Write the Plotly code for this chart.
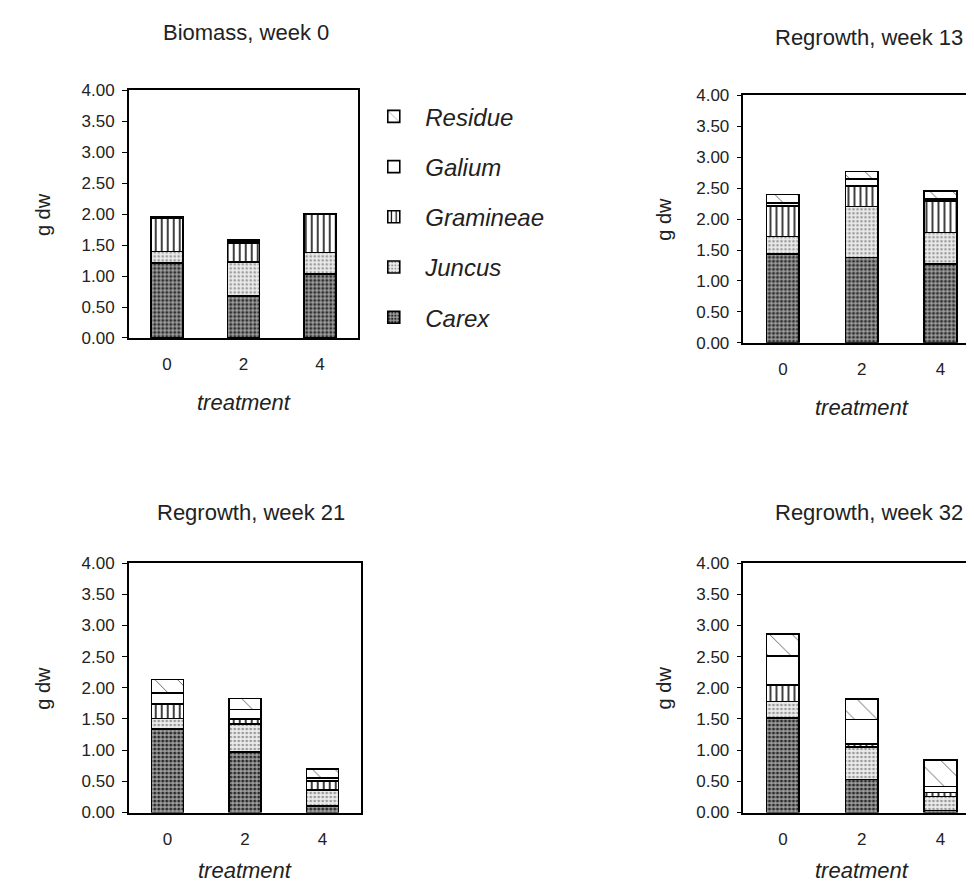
import plotly.graph_objects as go

W, H = 974, 884

treatments = ["0", "2", "4"]
species = ["Carex", "Juncus", "Gramineae", "Galium", "Residue"]
panel_titles = ["Biomass, week 0", "Regrowth, week 13", "Regrowth, week 21", "Regrowth, week 32"]
y_tick_vals = [0.0, 0.5, 1.0, 1.5, 2.0, 2.5, 3.0, 3.5, 4.0]

# week 0 (biomass)
carex_w0 = [1.21, 0.68, 1.03]
juncus_w0 = [0.19, 0.55, 0.35]
gramineae_w0 = [0.53, 0.30, 0.62]
galium_w0 = [0.02, 0.04, 0.01]
residue_w0 = [0.00, 0.02, 0.00]

# week 13 (regrowth)
carex_w13 = [1.44, 1.38, 1.27]
juncus_w13 = [0.28, 0.82, 0.51]
gramineae_w13 = [0.49, 0.33, 0.51]
galium_w13 = [0.05, 0.12, 0.03]
residue_w13 = [0.14, 0.12, 0.13]

# week 21 (regrowth)
carex_w21 = [1.34, 0.97, 0.10]
juncus_w21 = [0.17, 0.45, 0.26]
gramineae_w21 = [0.23, 0.08, 0.15]
galium_w21 = [0.18, 0.15, 0.04]
residue_w21 = [0.21, 0.18, 0.15]

# week 32 (regrowth)
carex_w32 = [1.52, 0.53, 0.03]
juncus_w32 = [0.26, 0.52, 0.23]
gramineae_w32 = [0.26, 0.05, 0.06]
galium_w32 = [0.47, 0.39, 0.10]
residue_w32 = [0.35, 0.33, 0.42]

panels_data = [
    [carex_w0, juncus_w0, gramineae_w0, galium_w0, residue_w0],
    [carex_w13, juncus_w13, gramineae_w13, galium_w13, residue_w13],
    [carex_w21, juncus_w21, gramineae_w21, galium_w21, residue_w21],
    [carex_w32, juncus_w32, gramineae_w32, galium_w32, residue_w32],
]

FONT = "Liberation Sans, Arial, Helvetica, sans-serif"

# pixel boxes of plot areas: (left, right, top, bottom)
boxes = [(121, 351, 75, 328), (737, 974, 80, 333), (121, 354, 558, 813), (737, 974, 558, 813)]
title_pos = [(238, 16), (863, 21), (243, 506), (863, 506)]
ytitle_x = [35, 657, 35, 657]
xtitle_y = [394, 399, 872, 872]

legend_rank = {"Residue": 1, "Galium": 2, "Gramineae": 3, "Juncus": 4, "Carex": 5}

styles = {
    "Carex": dict(color="#8c8c8c", pattern=dict(shape=".", fgcolor="#2a2a2a", bgcolor="#a0a0a0",
                                               size=4, solidity=0.45, fillmode="replace")),
    "Juncus": dict(color="#dcdcdc", pattern=dict(shape=".", fgcolor="#9a9a9a", bgcolor="#ececec",
                                                size=4, solidity=0.35, fillmode="replace")),
    "Gramineae": dict(color="white", pattern=dict(shape="|", fgcolor="black", bgcolor="white",
                                                 size=6, solidity=0.25, fillmode="replace")),
    "Galium": dict(color="white"),
    "Residue": dict(color="white", pattern=dict(shape="\\", fgcolor="#666666", bgcolor="white",
                                               size=16, solidity=0.06, fillmode="replace")),
}


def px_x(p):
    return p / W


def px_y(p):
    return 1 - p / H


fig = go.Figure()
annotations = []
layout = {}
for i, (vals, box) in enumerate(zip(panels_data, boxes)):
    n = "" if i == 0 else str(i + 1)
    xa, ya = "x" + n, "y" + n
    for sp, v in zip(species, vals):
        st = styles[sp]
        marker = dict(color=st["color"], line=dict(color="black", width=1.6))
        if "pattern" in st:
            marker["pattern"] = st["pattern"]
        fig.add_trace(go.Bar(
            x=treatments, y=v, name=sp, marker=marker,
            xaxis=xa, yaxis=ya, showlegend=(i == 0), legendgroup=sp,
            legendrank=legend_rank[sp],
        ))
    l, r, t, b = box
    layout["xaxis" + n] = dict(
        domain=[px_x(l), min(px_x(r), 1.0)], anchor=ya, type="category",
        showline=True, mirror=True, linecolor="black", linewidth=1.5,
        ticks="", showgrid=False, ticklabelstandoff=10,
        tickfont=dict(family=FONT, size=17, color="#222"),
    )
    layout["yaxis" + n] = dict(
        domain=[px_y(b), px_y(t)], anchor=xa, range=[0, 4],
        tickvals=y_tick_vals, tickformat=".2f",
        showline=True, mirror=True, linecolor="black", linewidth=1.5,
        ticks="outside", ticklen=5, tickwidth=1, tickcolor="black",
        showgrid=False, zeroline=False, ticklabelstandoff=4,
        tickfont=dict(family=FONT, size=17, color="#222"),
    )
    cx, cy = title_pos[i]
    annotations.append(dict(text=panel_titles[i], x=px_x(cx), y=px_y(cy), xref="paper", yref="paper",
                            showarrow=False, xanchor="center", yanchor="middle",
                            font=dict(family=FONT, size=22, color="#222")))
    annotations.append(dict(text="g dw", x=px_x(ytitle_x[i]), y=px_y((t + b) / 2), xref="paper", yref="paper",
                            showarrow=False, xanchor="center", yanchor="middle", textangle=-90,
                            font=dict(family=FONT, size=20, color="#222")))
    annotations.append(dict(text="<i>treatment</i>", x=px_x((l + r) / 2), y=px_y(xtitle_y[i]),
                            xref="paper", yref="paper",
                            showarrow=False, xanchor="center", yanchor="middle",
                            font=dict(family=FONT, size=22, color="#222")))

fig.update_layout(
    **layout,
    width=W, height=H,
    margin=dict(l=0, r=0, t=0, b=0),
    paper_bgcolor="white", plot_bgcolor="white",
    barmode="stack", bargap=0.585,
    annotations=annotations,
    showlegend=True,
    legend=dict(
        x=px_x(355), y=px_y(79), xanchor="left", yanchor="top",
        traceorder="grouped", tracegroupgap=16, itemwidth=53,
        font=dict(family=FONT, size=24, color="#222", style="italic"),
        bgcolor="rgba(0,0,0,0)", borderwidth=0,
    ),
)

fig.write_html("out.html")
